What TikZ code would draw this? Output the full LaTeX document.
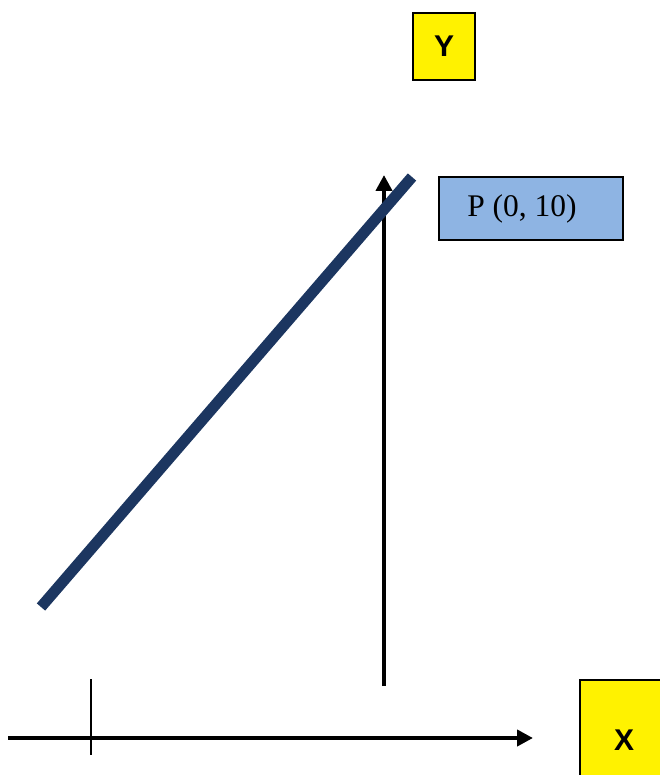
\documentclass[tikz,border=0pt]{standalone}
\usepackage{fontspec}
\setmainfont{Liberation Serif}
\setsansfont{Liberation Sans}
\usetikzlibrary{arrows.meta}
\definecolor{navyline}{RGB}{28,54,96}
\definecolor{paleblue}{RGB}{142,180,227}

\begin{document}
\begin{tikzpicture}[x=1pt,y=-1pt,
    axislabel/.style={draw=black, line width=2pt, fill=yellow, inner sep=0pt,
        font=\sffamily\bfseries\fontsize{30}{35}\selectfont},
    axisline/.style={line width=4pt, -{Triangle[length=16pt,width=16pt]}}]
    \useasboundingbox (0,0) rectangle (660,775);
    \clip (0,0) rectangle (660,775);

    % Axis labels
    \node[axislabel, minimum width=62pt, minimum height=67pt] (ylab) at (444,46.5) {Y};
    \node[axislabel, minimum width=88pt, minimum height=120pt] (xlab) at (624,740) {X};

    % Axes
    \coordinate (yfoot) at (384,686);
    \coordinate (ytip) at (384,175);
    \draw[axisline] (yfoot) -- (ytip);
    \coordinate (xstart) at (8,738);
    \coordinate (xtip) at (533,738);
    \draw[axisline] (xstart) -- (xtip);

    % Tick
    \coordinate (ticktop) at (91,679);
    \coordinate (tickbot) at (91,755);
    \draw[line width=1.5pt] (ticktop) -- (tickbot);

    % Line
    \coordinate (lowend) at (41,607);
    \coordinate (highend) at (412,177);
    \draw[navyline, line width=11pt] (lowend) -- (highend);

    % Point label
    \node[draw=black, line width=1.5pt, fill=paleblue, minimum width=184pt, minimum height=63pt,
        font=\fontsize{31.5}{36}\selectfont] (pbox) at (531,208.5) {P (0, 10)\kern18pt};
\end{tikzpicture}
\end{document}
